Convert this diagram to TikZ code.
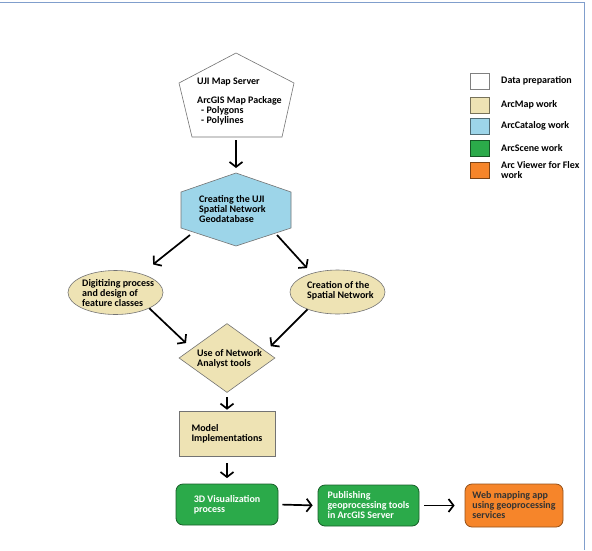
\documentclass[tikz,border=0pt]{standalone}
\usepackage{fontspec}
\setmainfont{Carlito}
\usetikzlibrary{shapes.geometric,arrows.meta}

\definecolor{mapwork}{RGB}{238,227,180}
\definecolor{catwork}{RGB}{157,213,233}
\definecolor{scenework}{RGB}{43,170,74}
\definecolor{flexwork}{RGB}{246,133,42}
\definecolor{frameblue}{RGB}{128,158,204}

\tikzset{
  txt/.style={inner sep=0pt, align=left, anchor=west, font=\fontsize{10}{10}\selectfont\bfseries},
  outline/.style={draw=black!55, line width=0.6pt},
  oval/.style={ellipse, outline, fill=mapwork, minimum width=95pt, minimum height=44pt, inner sep=0pt},
  procbox/.style={rectangle, align=left, inner sep=0pt, font=\fontsize{10}{10}\selectfont\bfseries},
  greenbox/.style={procbox, rounded corners=7pt, draw=scenework!55!black, line width=0.8pt, fill=scenework, text=white, minimum height=41pt},
  flowarrow/.style={line width=1.7pt, -{Straight Barb[length=5pt,width=13pt]}},
  key/.style={minimum width=19pt, minimum height=16pt, inner sep=0pt, line width=0.7pt},
}

\begin{document}
\begin{tikzpicture}[x=1pt, y=-1pt]
\useasboundingbox (0,0) rectangle (592,550);
\draw[frameblue, line width=1.5pt] (0,2.5) -- (584.5,2.5) -- (584.5,550); % page frame

% data source (pentagon)
\draw[outline, fill=white] (236,53) -- (294,83) -- (282,137) -- (192,137) -- (179,83) -- cycle;
\node[txt] (ujisrv) at (197,102) {UJI Map Server\\[9pt]ArcGIS Map Package\\\hspace*{4pt}- Polygons\\\hspace*{4pt}- Polylines};
\coordinate (pentS) at (236,140);

% geodatabase (hexagon)
\draw[outline, fill=catwork] (236,173) -- (291,192) -- (291,228) -- (236,246) -- (181,228) -- (181,192) -- cycle;
\node[txt] (cgdb) at (199,209) {Creating the UJI\\Spatial Network\\Geodatabase};
\coordinate (hexN) at (236,168);
\coordinate (hexSW) at (190,235);
\coordinate (hexSE) at (277,235);

% ArcMap steps
\node[oval] (dig) at (115.5,292.5) {};
\node[txt] (digtxt) at (82,293) {Digitizing process\\and design of\\feature classes};
\node[oval] (cre) at (337.5,292) {};
\node[txt] (cretxt) at (307,291) {Creation of the\\Spatial Network};
\node[diamond, outline, fill=mapwork, minimum width=96pt, minimum height=69pt, inner sep=0pt] (nat) at (227,358) {};
\node[txt] (nattxt) at (197,359) {Use of Network\\Analyst tools};
\node[procbox, outline, fill=mapwork, minimum width=96pt, minimum height=45pt] (mod) at (227,433.5) {Model\\Implementations};

% bottom row
\node[greenbox, minimum width=102pt] (viz) at (227,504.5) {3D Visualization\\process};
\node[greenbox, minimum width=101pt] (pub) at (368.5,505.5) {Publishing\\geoprocessing tools\\in ArcGIS Server};
\node[procbox, rounded corners=7pt, draw=flexwork!60!black, line width=0.8pt, fill=flexwork, text=black!80, minimum width=98pt, minimum height=43pt] (web) at (514,505.5) {Web mapping app\\using geoprocessing\\services};

% arrows
\draw[flowarrow] (pentS) -- (hexN);
\draw[flowarrow, shorten >=15pt] (hexSW) -- (dig.36);
\draw[flowarrow, shorten >=7pt] (hexSE) -- (cre.144);
\draw[flowarrow, shorten >=8pt] (dig.-25) -- (nat.165);
\draw[flowarrow, shorten >=7pt] (cre.210) -- (nat.10);
\draw[flowarrow, shorten <=4pt, shorten >=1pt] (nat.south) -- (mod.north);
\draw[flowarrow, shorten <=7pt, shorten >=5.5pt] (mod.south) -- (viz.north);
\draw[flowarrow, shorten <=4pt, shorten >=5pt] (viz.east) -- (pub.west);
\draw[flowarrow, shorten <=5pt, shorten >=10pt] (pub.east) -- (web.west);

% legend
\foreach \keycol/\ypos/\keylbl in {white/81/Data preparation, mapwork/105/ArcMap work, catwork/126/ArcCatalog work, scenework/148/ArcScene work, flexwork/170/{Arc Viewer for Flex\\work}}
{
  \node[key, draw=\keycol!50!black, fill=\keycol] (key\ypos) at (479.5,\ypos) {};
  \node[txt] (lbl\ypos) at (501,\ypos) {\keylbl};
}
\end{tikzpicture}
\end{document}
